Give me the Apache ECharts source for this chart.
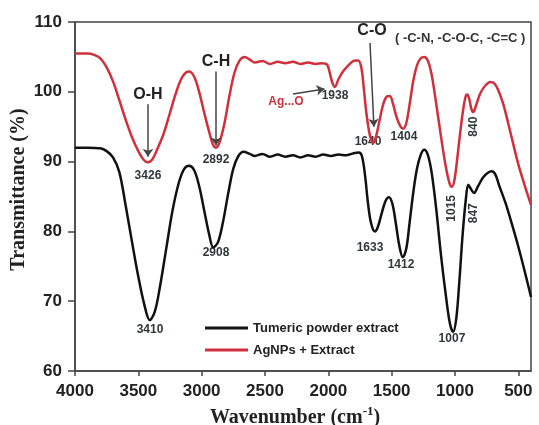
<!DOCTYPE html>
<html><head><meta charset="utf-8">
<script src="https://cdn.jsdelivr.net/npm/echarts@6/dist/echarts.min.js"></script>
<style>html,body{margin:0;padding:0;background:#fff}#c{width:539px;height:425px}</style>
</head><body><div id="c"></div>
<script>
// ---- data (wavenumber cm^-1, transmittance %) ----
const turmericX = [4000,3900,3800,3750,3700,3650,3600,3550,3500,3450,3410,3370,3330,3280,3230,3180,3140,3100,3060,3020,2980,2940,2908,2870,2830,2790,2750,2710,2670,2620,2580,2520,2460,2400,2340,2280,2220,2160,2100,2040,1980,1920,1860,1800,1760,1735,1710,1690,1670,1650,1632,1610,1580,1550,1522,1495,1470,1440,1412,1385,1360,1330,1300,1270,1243,1215,1185,1150,1110,1070,1040,1015,990,965,940,915,895,875,850,820,780,740,710,680,650,600,550,500,450,400];
const turmericY = [92.0,92.0,91.9,91.5,90.6,88.5,83.7,78.5,73.5,69.3,67.3,68.5,72.0,77.5,83.0,87.0,88.9,89.4,88.8,86.5,83.0,79.5,77.7,78.5,81.5,85.5,89.0,90.8,91.4,91.1,90.8,91.1,90.7,91.0,90.7,90.9,90.6,90.9,90.7,91.0,90.8,91.0,90.9,91.2,91.3,90.8,88.0,84.5,81.8,80.4,80.0,80.6,82.5,84.3,84.9,84.0,81.5,78.0,76.3,77.5,81.0,85.5,89.0,91.0,91.7,91.0,88.5,83.5,76.5,70.5,66.8,65.6,67.5,73.0,79.5,84.5,86.7,86.1,85.5,86.4,87.7,88.4,88.6,88.1,86.5,84.0,81.0,77.8,74.3,70.6];
const agX = [4000,3900,3850,3800,3750,3700,3650,3600,3550,3500,3460,3426,3390,3350,3300,3250,3200,3150,3100,3060,3020,2980,2940,2910,2888,2860,2820,2780,2740,2700,2660,2620,2580,2520,2460,2400,2340,2280,2220,2160,2100,2050,2010,1990,1968,1948,1920,1880,1830,1790,1765,1740,1720,1700,1680,1662,1645,1625,1600,1570,1540,1514,1490,1460,1430,1409,1385,1360,1330,1300,1270,1243,1215,1185,1150,1110,1075,1045,1025,1005,985,960,935,915,903,888,870,855,835,800,760,720,690,660,620,580,540,500,450,400];
const agY = [105.5,105.5,105.3,104.8,103.5,101.5,98.8,96.0,93.5,91.5,90.3,89.9,90.3,91.8,94.0,97.0,100.0,102.2,102.9,102.2,100.0,97.0,94.2,92.4,92.0,92.7,95.5,99.5,102.8,104.5,105.0,104.6,104.2,104.4,104.0,104.3,104.1,104.3,104.0,104.2,104.0,104.1,103.9,102.8,101.3,100.7,101.8,103.0,104.0,104.5,104.5,103.5,100.5,97.0,94.5,93.1,92.7,93.5,95.5,98.0,99.3,99.4,98.3,96.3,95.0,94.7,95.5,98.0,101.5,103.8,104.8,105.0,104.5,102.5,98.5,93.5,89.5,87.0,86.4,87.3,90.0,94.0,97.5,99.4,99.6,99.0,97.5,97.1,98.0,99.8,100.9,101.4,101.2,100.3,98.3,95.5,92.5,89.6,86.6,83.8];
const seriesNames = ['Tumeric powder extract', 'AgNPs + Extract'];
const xTicks = [500,1000,1500,2000,2500,3000,3500,4000];
const peakTexts = ['3426','2892','3410','2908','1938','1640','1404','840','1015','847','1633','1412','1007'];
const peakAt = [[3424,88],[2887,90.3],[3408,65.9],[2887,77.0],[1947,99.4],[1687,92.9],[1403,93.6],[850,95.0],[1024,83.3],[850,82.6],[1671,77.7],[1426,75.3],[1024,64.7]];
const peakVertical = [false,false,false,false,false,false,false,true,true,true,false,false,false];

const zip = (a, b) => a.map((v, i) => [v, b[i]]);
const chart = echarts.init(document.getElementById('c'), null, {renderer: 'canvas'});
const sans = 'Liberation Sans, Arial, sans-serif';
const serif = 'Liberation Serif, Times New Roman, serif';
const arrowStyle = {color: '#444', width: 1.5, type: 'solid'};

chart.setOption({
  animation: false,
  backgroundColor: '#fff',
  grid: {left: 75, right: 8, top: 22, bottom: 54, show: true, borderColor: '#444', borderWidth: 1.5,
    containLabel: false, outerBoundsMode: 'none'},
  legend: {
    left: 200, top: 315, orient: 'vertical', icon: 'rect', itemWidth: 43, itemHeight: 3, itemGap: 6,
    textStyle: {fontFamily: sans, fontWeight: 'bold', fontSize: 13, color: '#222', lineHeight: 16},
    data: seriesNames
  },
  xAxis: {
    type: 'value', min: 400, max: 4000, inverse: true,
    axisLine: {lineStyle: {color: '#444', width: 1.5}},
    axisTick: {show: true, length: 5, customValues: xTicks, lineStyle: {color: '#444', width: 1.5}},
    axisLabel: {customValues: xTicks, formatter: v => String(v), fontFamily: sans, fontWeight: 'bold', fontSize: 17, color: '#222', margin: 12},
    splitLine: {show: false},
    name: '{a|Wavenumber (cm}{s|-1}{a|)}', nameLocation: 'middle', nameGap: 32,
    nameTextStyle: {padding: [0, 16, 0, 0], rich: {
      a: {fontFamily: serif, fontWeight: 'bold', fontSize: 20, color: '#222'},
      s: {fontFamily: serif, fontWeight: 'bold', fontSize: 13, color: '#222', padding: [0, 0, 12, 0]}
    }}
  },
  yAxis: {
    type: 'value', min: 60, max: 110, interval: 10,
    axisLine: {show: true, lineStyle: {color: '#444', width: 1.5}},
    axisTick: {show: true, length: 7, lineStyle: {color: '#444', width: 1.5}},
    axisLabel: {fontFamily: sans, fontWeight: 'bold', fontSize: 17, color: '#222', margin: 13},
    splitLine: {show: false},
    name: 'Transmittance (%)', nameLocation: 'middle', nameGap: 46, nameMoveOverlap: false,
    nameTextStyle: {fontFamily: serif, fontWeight: 'bold', fontSize: 20, color: '#222', padding: [0, 0, 0, 14]}
  },
  series: [
    {
      name: seriesNames[0], type: 'line', data: zip(turmericX, turmericY), smooth: 0.35,
      showSymbol: false, lineStyle: {color: '#111', width: 2.5}, itemStyle: {color: '#111'},
      markLine: {
        silent: true, symbol: ['none', 'arrow'], symbolSize: 8, label: {show: false},
        lineStyle: arrowStyle,
        data: [
          [{coord: [3424, 98.2]}, {coord: [3424, 90.7]}],
          [{coord: [2887, 102.9]}, {coord: [2887, 92.3]}],
          [{coord: [1671, 107.0]}, {coord: [1640, 95.0]}],
          [{coord: [2279, 99.7]}, {coord: [2030, 100.4]}]
        ]
      }
    },
    {
      name: seriesNames[1], type: 'line', data: zip(agX, agY), smooth: 0.35,
      showSymbol: false, lineStyle: {color: '#d0303c', width: 2.5}, itemStyle: {color: '#d0303c'}
    }
  ]
});

function px(p) { return chart.convertToPixel({xAxisIndex: 0, yAxisIndex: 0}, p); }
const graphics = [];
peakTexts.forEach((t, i) => {
  const p = px(peakAt[i]);
  graphics.push({
    type: 'text', x: p[0], y: p[1], rotation: peakVertical[i] ? Math.PI / 2 : 0, silent: true,
    style: {text: t, fill: '#2f3838', font: 'bold 12px ' + sans, align: 'center', verticalAlign: 'middle'}
  });
});
const bigLabels = [['O-H', [3424, 99.6]], ['C-H', [2887, 104.3]], ['C-O', [1655, 108.7]]];
bigLabels.forEach(b => {
  const p = px(b[1]);
  graphics.push({type: 'text', x: p[0], y: p[1], silent: true,
    style: {text: b[0], fill: '#222', font: 'bold 16px ' + sans, align: 'center', verticalAlign: 'middle'}});
});
const sub = px([1474, 107.7]);
graphics.push({type: 'text', x: sub[0], y: sub[1], silent: true,
  style: {text: '( -C-N, -C-O-C, -C=C )', fill: '#333', font: 'bold 13px ' + sans, align: 'left', verticalAlign: 'middle'}});
const ag = px([2334, 98.6]);
graphics.push({type: 'text', x: ag[0], y: ag[1], silent: true,
  style: {text: 'Ag...O', fill: '#d0303c', font: 'bold 12px ' + sans, align: 'center', verticalAlign: 'middle'}});
chart.setOption({graphic: graphics});
</script>
</body></html>
